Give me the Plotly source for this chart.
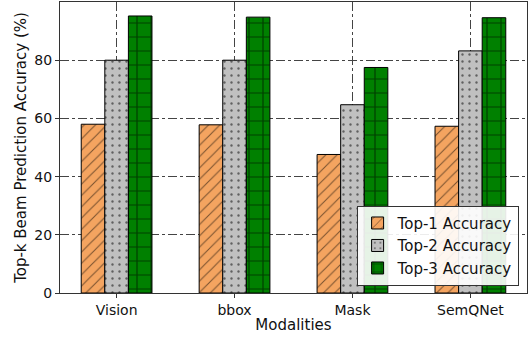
import plotly.graph_objects as go

categories = ["Vision", "bbox", "Mask", "SemQNet"]
top1 = [58.0, 57.8, 47.6, 57.3]
top2 = [80.0, 80.0, 64.7, 83.2]
top3 = [95.2, 94.8, 77.5, 94.6]
series_names = ["Top-1 Accuracy", "Top-2 Accuracy", "Top-3 Accuracy"]
yticks = [0, 20, 40, 60, 80]

FONT = "DejaVu Sans"
xpos = list(range(len(categories)))

styles = [
    dict(bg="#F4A460", shape="/", size=8, sol=0.13),
    dict(bg="#C0C0C0", shape=".", size=7, sol=0.09),
    dict(bg="#008000", shape="+", size=14, sol=0.17),
]

fig = go.Figure()
for name, vals, st in zip(series_names, [top1, top2, top3], styles):
    fig.add_trace(go.Bar(
        x=xpos, y=vals, name=name,
        marker=dict(
            color=st["bg"],
            line=dict(color="black", width=1),
            pattern=dict(shape=st["shape"], fgcolor="black", bgcolor=st["bg"],
                         size=st["size"], solidity=st["sol"], fillmode="overlay"),
        ),
    ))

axis_common = dict(
    showline=True, linecolor="#333", linewidth=1, mirror=True,
    ticks="outside", ticklen=4, tickcolor="#333",
    showgrid=True, gridcolor="#444", griddash="dashdot", gridwidth=1,
    zeroline=False, tickfont=dict(family=FONT, size=14, color="#111"),
    title_font=dict(family=FONT, size=15, color="#111"),
)

fig.update_layout(
    width=529, height=339,
    margin=dict(l=60, r=2, t=2, b=46),
    paper_bgcolor="white", plot_bgcolor="white",
    barmode="group", bargap=0.4, bargroupgap=0,
    font=dict(family=FONT, size=14, color="#111"),
    xaxis=dict(axis_common, tickvals=xpos, ticktext=categories,
               range=[-0.48, 3.48], title=dict(text="Modalities", standoff=2)),
    yaxis=dict(axis_common, tickvals=yticks, range=[0, 100],
               title=dict(text="Top-k Beam Prediction Accuracy (%)", standoff=4)),
    legend=dict(x=0.982, y=0.025, xanchor="right", yanchor="bottom",
                bgcolor="rgba(255,255,255,0.9)", bordercolor="#333", borderwidth=1,
                font=dict(family=FONT, size=15, color="#111"),
                tracegroupgap=0, itemwidth=30),
    showlegend=True,
)

fig.write_html("out.html")
